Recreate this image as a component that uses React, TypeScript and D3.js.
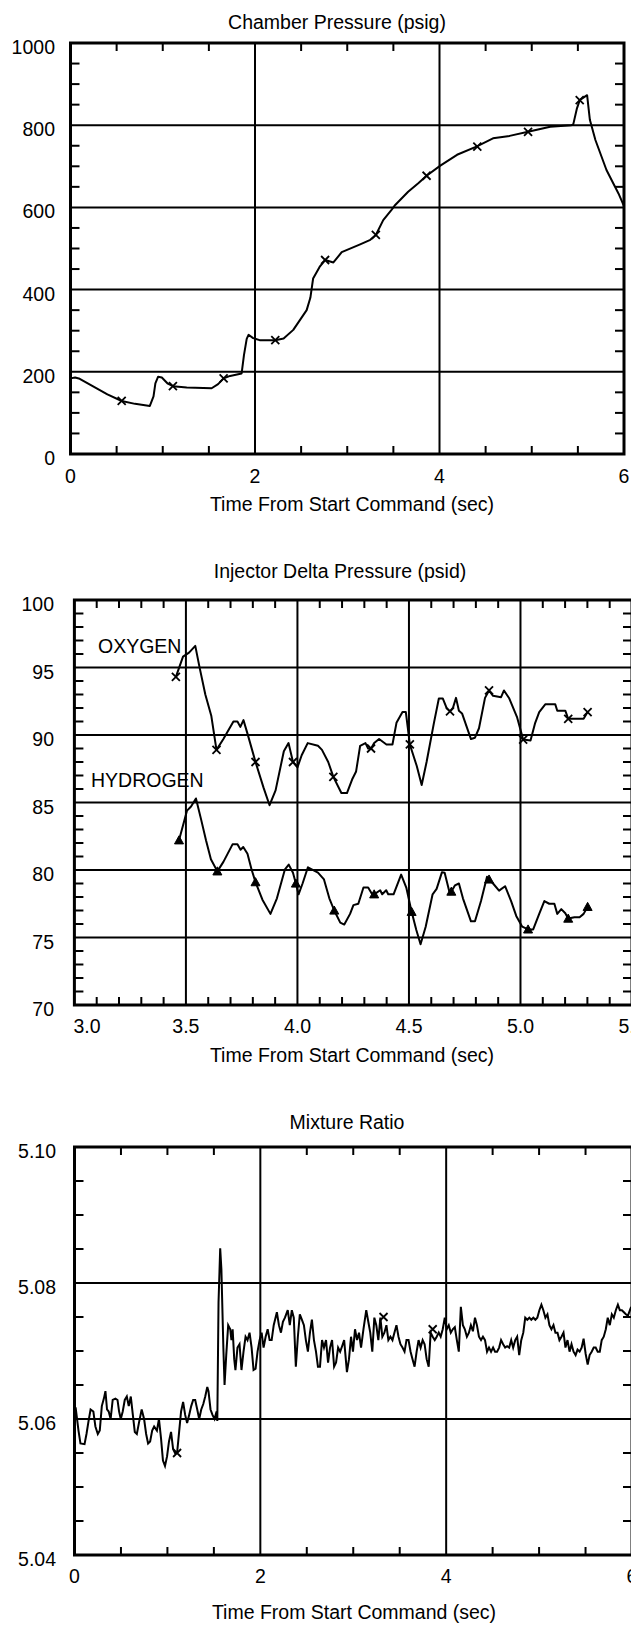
import React from 'react';
import * as d3 from 'd3';

const FONT = '"Liberation Sans", Arial, Helvetica, sans-serif';
const FS = 19.5;
const W = 631;
const H = 1628;

// ---------- Chart 1: Chamber Pressure ----------
const pcTitle = 'Chamber Pressure (psig)';
const pcXTicks = [0, 2, 4, 6];
const pcYTicks = [0, 200, 400, 600, 800, 1000];
const pcTime = [0.00, 0.05, 0.10, 0.25, 0.40, 0.555, 0.70, 0.86, 0.90, 0.92, 0.95, 0.99, 1.05, 1.11, 1.26, 1.53, 1.60, 1.66, 1.73, 1.855, 1.88, 1.91, 1.93, 1.98, 2.05, 2.22, 2.31, 2.415, 2.56, 2.60, 2.63, 2.70, 2.76, 2.85, 2.94, 3.14, 3.25, 3.31, 3.39, 3.48, 3.52, 3.66, 3.77, 3.86, 4.005, 4.19, 4.40, 4.58, 4.76, 4.96, 5.20, 5.43, 5.45, 5.49, 5.52, 5.60, 5.63, 5.69, 5.81, 5.94, 6.00];
const pcValue = [184, 186, 183, 164, 145, 129, 122, 117, 140, 172, 188, 186, 172, 165, 162, 160, 170, 184, 190, 196, 240, 280, 290, 282, 277, 277, 281, 302, 350, 380, 427, 455, 472, 466, 491, 510, 521, 533, 569, 594, 606, 638, 659, 677, 701, 728, 748, 768, 774, 784, 796, 800, 802, 841, 861, 873, 813, 764, 691, 634, 603];
const pcMarkTime = [0.555, 1.11, 1.66, 2.22, 2.76, 3.31, 3.86, 4.41, 4.96, 5.52];
const pcMarkValue = [129, 165, 184, 277, 472, 533, 677, 748, 784, 861];

// ---------- Chart 2: Injector Delta Pressure ----------
const idpTitle = 'Injector Delta Pressure (psid)';
const idpXTicks = [3.0, 3.5, 4.0, 4.5, 5.0, 5.5];
const idpYTicks = [70, 75, 80, 85, 90, 95, 100];
const oxTime = [3.455, 3.487, 3.514, 3.542, 3.56, 3.587, 3.614, 3.637, 3.668, 3.713, 3.731, 3.744, 3.758, 3.776, 3.812, 3.848, 3.875, 3.902, 3.939, 3.96, 3.98, 4.00, 4.019, 4.046, 4.092, 4.11, 4.138, 4.161, 4.197, 4.222, 4.245, 4.263, 4.281, 4.305, 4.317, 4.33, 4.344, 4.366, 4.399, 4.426, 4.444, 4.471, 4.486, 4.504, 4.535, 4.557, 4.579, 4.612, 4.634, 4.652, 4.670, 4.684, 4.697, 4.711, 4.724, 4.738, 4.778, 4.796, 4.814, 4.841, 4.859, 4.877, 4.913, 4.926, 4.95, 4.985, 5.012, 5.045, 5.066, 5.084, 5.111, 5.156, 5.165, 5.201, 5.214, 5.228, 5.283, 5.301];
const oxValue = [94.3, 95.8, 96.1, 96.6, 95.1, 93.0, 91.4, 88.9, 89.7, 91.0, 91.0, 90.6, 91.1, 90.1, 88.0, 86.1, 84.8, 85.9, 88.8, 89.4, 88.0, 87.6, 88.5, 89.4, 89.2, 88.9, 88.0, 86.9, 85.7, 85.7, 86.7, 87.3, 89.2, 89.4, 89.0, 89.0, 89.4, 89.7, 89.3, 89.3, 90.9, 91.7, 91.7, 89.3, 87.7, 86.3, 88.0, 90.9, 92.7, 92.7, 91.96, 91.75, 92.0, 92.75, 91.8, 91.6, 89.7, 89.8, 90.5, 92.75, 93.3, 92.9, 92.8, 93.3, 92.7, 91.3, 89.66, 89.6, 90.9, 91.7, 92.27, 92.27, 91.8, 91.8, 91.2, 91.2, 91.2, 91.7];
const oxMarkTime = [3.455, 3.637, 3.812, 3.98, 4.161, 4.33, 4.504, 4.684, 4.859, 5.012, 5.214, 5.301];
const oxMarkValue = [94.3, 88.9, 88.0, 88.0, 86.9, 89.0, 89.3, 91.75, 93.3, 89.66, 91.2, 91.7];
const hyTime = [3.469, 3.505, 3.523, 3.545, 3.568, 3.590, 3.612, 3.641, 3.668, 3.709, 3.731, 3.745, 3.757, 3.776, 3.794, 3.812, 3.843, 3.879, 3.908, 3.944, 3.961, 3.980, 3.993, 4.005, 4.023, 4.047, 4.092, 4.119, 4.143, 4.165, 4.192, 4.210, 4.236, 4.251, 4.273, 4.296, 4.317, 4.335, 4.344, 4.371, 4.380, 4.398, 4.407, 4.431, 4.465, 4.488, 4.512, 4.533, 4.552, 4.575, 4.606, 4.624, 4.648, 4.660, 4.684, 4.690, 4.706, 4.724, 4.742, 4.778, 4.796, 4.823, 4.850, 4.859, 4.877, 4.904, 4.931, 4.958, 4.981, 5.008, 5.034, 5.057, 5.084, 5.107, 5.129, 5.152, 5.165, 5.183, 5.201, 5.214, 5.242, 5.265, 5.283, 5.301];
const hyValue = [82.2, 84.4, 84.7, 85.3, 83.75, 82.2, 80.8, 79.9, 80.6, 81.9, 81.9, 81.5, 81.7, 81.2, 80.05, 79.1, 77.8, 76.75, 77.9, 80.05, 80.4, 79.8, 79.0, 78.2, 79.0, 80.2, 79.8, 79.3, 77.9, 77.0, 76.1, 75.96, 76.75, 77.4, 77.5, 78.7, 78.7, 78.2, 78.2, 78.5, 78.2, 78.5, 78.2, 78.2, 79.66, 78.7, 76.9, 75.55, 74.5, 75.8, 78.2, 78.6, 79.84, 79.8, 78.2, 78.4, 78.86, 79.0, 77.9, 76.2, 76.2, 77.7, 79.5, 79.3, 79.0, 78.47, 78.8, 77.7, 76.6, 75.8, 75.6, 75.6, 76.75, 77.7, 77.5, 77.5, 76.75, 77.1, 76.8, 76.4, 76.5, 76.5, 76.75, 77.27];
const hyMarkTime = [3.469, 3.641, 3.812, 3.993, 4.165, 4.344, 4.512, 4.690, 4.859, 5.034, 5.214, 5.301];
const hyMarkValue = [82.2, 79.9, 79.1, 79.0, 77.0, 78.2, 76.9, 78.4, 79.3, 75.6, 76.4, 77.27];
const seriesNames = ['OXYGEN', 'HYDROGEN'];

// ---------- Chart 3: Mixture Ratio ----------
const mrTitle = 'Mixture Ratio';
const mrXTicks = [0, 2, 4, 6];
const mrYTicks = [5.04, 5.06, 5.08, 5.10];
const mrTime = [0.000,0.012,0.043,0.064,0.108,0.129,0.151,0.173,0.203,0.225,0.251,0.272,0.294,0.316,0.333,0.350,0.368,0.389,0.411,0.441,0.463,0.480,0.498,0.519,0.541,0.563,0.584,0.606,0.628,0.649,0.671,0.693,0.723,0.749,0.771,0.792,0.814,0.836,0.857,0.887,0.909,0.931,0.952,0.974,0.996,1.017,1.039,1.061,1.082,1.104,1.126,1.147,1.169,1.191,1.212,1.234,1.256,1.277,1.299,1.321,1.342,1.364,1.386,1.407,1.429,1.442,1.464,1.485,1.507,1.529,1.537,1.550,1.568,1.581,1.602,1.615,1.633,1.654,1.676,1.689,1.702,1.719,1.732,1.754,1.776,1.797,1.819,1.841,1.862,1.884,1.906,1.927,1.949,1.970,1.992,2.014,2.035,2.057,2.079,2.100,2.122,2.144,2.178,2.200,2.222,2.243,2.265,2.295,2.317,2.339,2.360,2.382,2.404,2.425,2.447,2.469,2.490,2.512,2.534,2.555,2.577,2.599,2.620,2.642,2.664,2.685,2.707,2.729,2.750,2.772,2.794,2.815,2.837,2.859,2.880,2.902,2.932,2.954,2.976,2.997,3.019,3.041,3.062,3.084,3.110,3.140,3.162,3.183,3.205,3.227,3.248,3.270,3.292,3.313,3.335,3.357,3.378,3.400,3.422,3.443,3.465,3.487,3.508,3.530,3.552,3.573,3.595,3.617,3.638,3.660,3.682,3.703,3.725,3.747,3.768,3.790,3.812,3.833,3.855,3.877,3.898,3.920,3.941,3.963,3.985,4.006,4.028,4.050,4.071,4.093,4.115,4.136,4.158,4.180,4.201,4.223,4.245,4.266,4.288,4.310,4.331,4.353,4.375,4.396,4.418,4.440,4.461,4.483,4.505,4.526,4.548,4.570,4.591,4.613,4.635,4.656,4.678,4.700,4.721,4.743,4.764,4.786,4.808,4.830,4.851,4.873,4.895,4.916,4.938,4.960,4.981,5.003,5.025,5.046,5.068,5.090,5.111,5.133,5.155,5.176,5.198,5.219,5.241,5.263,5.284,5.306,5.328,5.349,5.371,5.393,5.414,5.436,5.458,5.479,5.501,5.523,5.544,5.566,5.588,5.609,5.631,5.653,5.674,5.696,5.718,5.739,5.761,5.783,5.804,5.826,5.848,5.869,5.891,5.913,5.934,5.956,5.991];
const mrValue = [5.0600,5.0617,5.0583,5.0564,5.0563,5.0578,5.0597,5.0614,5.0611,5.0589,5.0578,5.0583,5.0619,5.0630,5.0641,5.0614,5.0611,5.0600,5.0628,5.0630,5.0628,5.0611,5.0600,5.0611,5.0628,5.0633,5.0619,5.0633,5.0606,5.0581,5.0578,5.0594,5.0614,5.0600,5.0578,5.0564,5.0567,5.0583,5.0589,5.0583,5.0600,5.0572,5.0539,5.0531,5.0545,5.0567,5.0581,5.0556,5.0550,5.0550,5.0581,5.0611,5.0625,5.0606,5.0594,5.0606,5.0619,5.0628,5.0628,5.0614,5.0600,5.0614,5.0622,5.0633,5.0647,5.0641,5.0614,5.0606,5.0600,5.0611,5.0597,5.0771,5.0851,5.0820,5.0705,5.0650,5.0694,5.0738,5.0732,5.0716,5.0732,5.0688,5.0672,5.0705,5.0710,5.0672,5.0699,5.0721,5.0716,5.0727,5.0705,5.0672,5.0674,5.0699,5.0716,5.0727,5.0705,5.0721,5.0732,5.0716,5.0716,5.0738,5.0757,5.0738,5.0727,5.0743,5.0749,5.0760,5.0738,5.0760,5.0749,5.0677,5.0721,5.0754,5.0746,5.0738,5.0716,5.0699,5.0727,5.0746,5.0716,5.0699,5.0677,5.0677,5.0716,5.0705,5.0716,5.0683,5.0705,5.0716,5.0677,5.0683,5.0705,5.0699,5.0707,5.0716,5.0669,5.0688,5.0721,5.0699,5.0732,5.0716,5.0727,5.0705,5.0732,5.0760,5.0743,5.0727,5.0699,5.0749,5.0738,5.0716,5.0749,5.0721,5.0727,5.0738,5.0716,5.0721,5.0716,5.0727,5.0738,5.0721,5.0710,5.0705,5.0699,5.0716,5.0716,5.0699,5.0688,5.0677,5.0699,5.0716,5.0705,5.0716,5.0710,5.0688,5.0677,5.0727,5.0721,5.0716,5.0721,5.0727,5.0721,5.0732,5.0749,5.0732,5.0738,5.0727,5.0732,5.0735,5.0716,5.0699,5.0765,5.0738,5.0732,5.0721,5.0727,5.0738,5.0729,5.0749,5.0738,5.0721,5.0716,5.0721,5.0716,5.0699,5.0705,5.0699,5.0705,5.0699,5.0699,5.0705,5.0716,5.0710,5.0705,5.0707,5.0705,5.0716,5.0705,5.0716,5.0721,5.0694,5.0716,5.0727,5.0749,5.0746,5.0749,5.0746,5.0749,5.0746,5.0749,5.0760,5.0768,5.0760,5.0749,5.0754,5.0738,5.0732,5.0738,5.0727,5.0727,5.0716,5.0721,5.0727,5.0705,5.0716,5.0699,5.0710,5.0699,5.0694,5.0702,5.0699,5.0705,5.0718,5.0696,5.0680,5.0694,5.0699,5.0705,5.0705,5.0699,5.0699,5.0716,5.0721,5.0732,5.0749,5.0738,5.0754,5.0749,5.0760,5.0768,5.0760,5.0760,5.0757,5.0754,5.0752,5.0765];
const mrMarkTime = [1.104, 3.326, 3.855];
const mrMarkValue = [5.0550, 5.0750, 5.0732];

const xAxisTitle = 'Time From Start Command (sec)';

type Lin = d3.ScaleLinear<number, number>;

function minorTicks(lo: number, hi: number, step: number, major: number) {
  return d3.range(lo, hi + step / 2, step).filter((v) => {
    const r = v / major;
    return Math.abs(r - Math.round(r)) > 1e-6;
  });
}

function Frame(props: {
  x: Lin; y: Lin;
  xTicks: number[]; yTicks: number[];
  xMinor: number; yMinor: number;
  xMajorStep: number; yMajorStep: number;
  xFmt: (v: number) => string; yFmt: (v: number) => string;
  yLabelX: number; xLabelDy: number; firstStart?: boolean;
}) {
  const { x, y, xTicks, yTicks } = props;
  const [dx0, dx1] = x.domain();
  const [dy0, dy1] = y.domain();
  const L = x(dx0), R = x(dx1), B = y(dy0), T = y(dy1);
  const xm = minorTicks(dx0, dx1, props.xMinor, props.xMajorStep);
  const ym = minorTicks(dy0, dy1, props.yMinor, props.yMajorStep);
  const innerX = xTicks.filter((v) => v > dx0 + 1e-9 && v < dx1 - 1e-9);
  const innerY = yTicks.filter((v) => v > dy0 + 1e-9 && v < dy1 - 1e-9);
  const tl = 8;
  return (
    <g stroke="#000" fill="none">
      {innerX.map((v) => (
        <line key={'gx' + v} x1={x(v)} x2={x(v)} y1={T} y2={B} strokeWidth={2} />
      ))}
      {innerY.map((v) => (
        <line key={'gy' + v} x1={L} x2={R} y1={y(v)} y2={y(v)} strokeWidth={2} />
      ))}
      {xm.map((v) => (
        <g key={'mx' + v}>
          <line x1={x(v)} x2={x(v)} y1={B} y2={B - tl} strokeWidth={2} />
          <line x1={x(v)} x2={x(v)} y1={T} y2={T + tl} strokeWidth={2} />
        </g>
      ))}
      {ym.map((v) => (
        <g key={'my' + v}>
          <line x1={L} x2={L + tl + 1} y1={y(v)} y2={y(v)} strokeWidth={2} />
          <line x1={R} x2={R - tl - 1} y1={y(v)} y2={y(v)} strokeWidth={2} />
        </g>
      ))}
      <rect x={L} y={T} width={R - L} height={B - T} strokeWidth={3} />
      <g stroke="none" fill="#000" fontFamily={FONT} fontSize={FS}>
        {yTicks.map((v) => (
          <text key={'ly' + v} x={props.yLabelX} y={y(v) + 11} textAnchor="end">
            {props.yFmt(v)}
          </text>
        ))}
        {xTicks.map((v, i) => (
          <text
            key={'lx' + v}
            x={props.firstStart && i === 0 ? x(v) - 1 : x(v)}
            y={B + props.xLabelDy}
            textAnchor={props.firstStart && i === 0 ? 'start' : 'middle'}
          >
            {props.xFmt(v)}
          </text>
        ))}
      </g>
    </g>
  );
}

function XMark({ cx, cy }: { cx: number; cy: number }) {
  const s = 4;
  return (
    <path d={`M${cx - s},${cy - s}L${cx + s},${cy + s}M${cx - s},${cy + s}L${cx + s},${cy - s}`} stroke="#000" strokeWidth={1.8} fill="none" />
  );
}

function TriMark({ cx, cy }: { cx: number; cy: number }) {
  const s = 4.5;
  return <path d={`M${cx},${cy - s}L${cx + s},${cy + s * 0.8}L${cx - s},${cy + s * 0.8}Z`} fill="#000" stroke="#000" strokeWidth={1} />;
}

function Txt({ x, y, children, anchor = 'middle' }: { x: number; y: number; children: string; anchor?: string }) {
  return (
    <text x={x} y={y} textAnchor={anchor as any} fontFamily={FONT} fontSize={FS} fill="#000">
      {children}
    </text>
  );
}

export default function App() {
  // Chart 1 scales
  const x1 = d3.scaleLinear().domain([0, 6]).range([70.5, 624]);
  const y1 = d3.scaleLinear().domain([0, 1000]).range([454, 43]);
  // Chart 2 scales
  const x2 = d3.scaleLinear().domain([3.0, 5.5]).range([74.4, 632]);
  const y2 = d3.scaleLinear().domain([70, 100]).range([1005, 600]);
  // Chart 3 scales
  const x3 = d3.scaleLinear().domain([0, 6]).range([74.5, 632]);
  const y3 = d3.scaleLinear().domain([5.04, 5.1]).range([1555, 1147]);

  const mk = (xs: Lin, ys: Lin) => d3.line<[number, number]>().x((d) => xs(d[0])).y((d) => ys(d[1]));
  const zip = (a: number[], b: number[]) => a.map((t, i) => [t, b[i]] as [number, number]).filter((p) => p[1] !== undefined);

  const pcPath = mk(x1, y1)(zip(pcTime, pcValue)) || '';
  const oxPath = mk(x2, y2)(zip(oxTime, oxValue)) || '';
  const hyPath = mk(x2, y2)(zip(hyTime, hyValue)) || '';
  const mrPath = mk(x3, y3)(zip(mrTime, mrValue)) || '';

  return (
    <svg width={W} height={H} viewBox={`0 0 ${W} ${H}`} style={{ position: 'absolute', left: 0, top: 0, background: '#fff' }}>
      <rect x={0} y={0} width={W} height={H} fill="#fff" />

      {/* Chart 1 */}
      <Txt x={337} y={29}>{pcTitle}</Txt>
      <Frame x={x1} y={y1} xTicks={pcXTicks} yTicks={pcYTicks} xMinor={0.5} yMinor={50} xMajorStep={2} yMajorStep={200}
        xFmt={(v) => String(v)} yFmt={(v) => String(v)} yLabelX={55} xLabelDy={29} />
      <path d={pcPath} stroke="#000" strokeWidth={2} fill="none" strokeLinejoin="round" />
      {pcMarkTime.map((t, i) => <XMark key={'pm' + i} cx={x1(t)} cy={y1(pcMarkValue[i])} />)}
      <Txt x={352} y={511}>{xAxisTitle}</Txt>

      {/* Chart 2 */}
      <Txt x={340} y={578}>{idpTitle}</Txt>
      <Frame x={x2} y={y2} xTicks={idpXTicks} yTicks={idpYTicks} xMinor={0.1} yMinor={1} xMajorStep={0.5} yMajorStep={5}
        xFmt={(v) => v.toFixed(1)} yFmt={(v) => String(v)} yLabelX={54} xLabelDy={28} firstStart />
      <path d={oxPath} stroke="#000" strokeWidth={2} fill="none" strokeLinejoin="round" />
      <path d={hyPath} stroke="#000" strokeWidth={2} fill="none" strokeLinejoin="round" />
      {oxMarkTime.map((t, i) => <XMark key={'om' + i} cx={x2(t)} cy={y2(oxMarkValue[i])} />)}
      {hyMarkTime.map((t, i) => <TriMark key={'hm' + i} cx={x2(t)} cy={y2(hyMarkValue[i])} />)}
      <Txt x={98} y={653} anchor="start">{seriesNames[0]}</Txt>
      <Txt x={91} y={787} anchor="start">{seriesNames[1]}</Txt>
      <Txt x={352} y={1062}>{xAxisTitle}</Txt>

      {/* Chart 3 */}
      <Txt x={347} y={1129}>{mrTitle}</Txt>
      <Frame x={x3} y={y3} xTicks={mrXTicks} yTicks={mrYTicks} xMinor={0.5} yMinor={0.005} xMajorStep={2} yMajorStep={0.02}
        xFmt={(v) => String(v)} yFmt={(v) => v.toFixed(2)} yLabelX={56} xLabelDy={28} />
      <path d={mrPath} stroke="#000" strokeWidth={2} fill="none" strokeLinejoin="miter" />
      {mrMarkTime.map((t, i) => <XMark key={'mm' + i} cx={x3(t)} cy={y3(mrMarkValue[i])} />)}
      <Txt x={354} y={1619}>{xAxisTitle}</Txt>
    </svg>
  );
}
